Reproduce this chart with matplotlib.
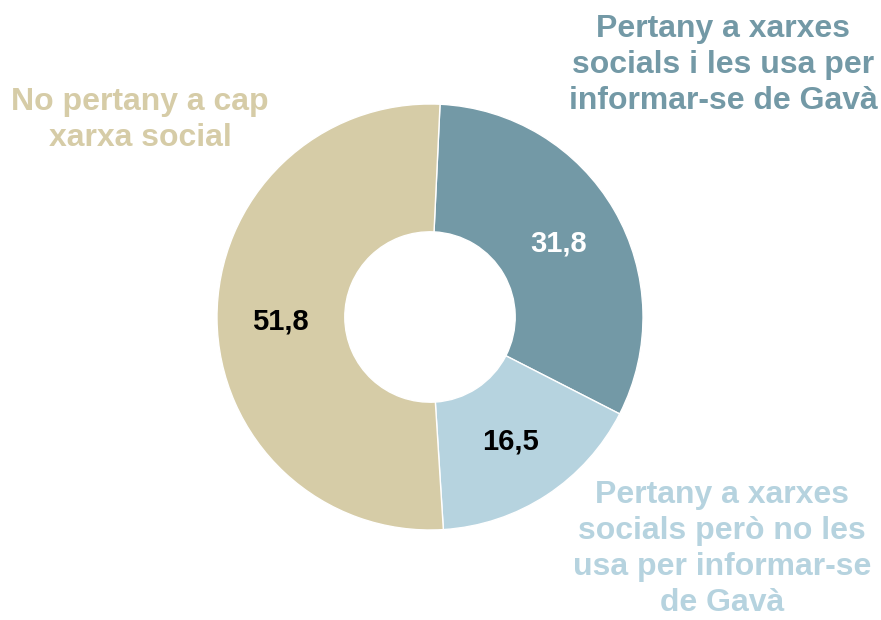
import matplotlib.pyplot as plt

plt.rcParams["font.family"] = ["Liberation Sans", "DejaVu Sans"]

categories = [
    "Pertany a xarxes\nsocials i les usa per\ninformar-se de Gavà",
    "Pertany a xarxes\nsocials però no les\nusa per informar-se\nde Gavà",
    "No pertany a cap\nxarxa social",
]
values = [31.8, 16.5, 51.8]
value_labels = ["31,8", "16,5", "51,8"]
colors = ["#7399A6", "#B6D3DF", "#D6CCA7"]
value_colors = ["white", "black", "black"]

W, H = 881, 620
fig = plt.figure(figsize=(W / 100, H / 100), dpi=100)
ax = fig.add_axes([0, 0, 1, 1])

cx, cy, r = 430, H - 317, 213
wedges, _ = ax.pie(values, colors=colors, startangle=87.3, counterclock=False,
                   center=(cx, cy), radius=r, frame=True,
                   wedgeprops=dict(width=r * 0.6, edgecolor="white", linewidth=1))
ax.set_xlim(0, W)
ax.set_ylim(0, H)
ax.set_aspect("equal")
ax.axis("off")

# value labels inside ring
value_pos = [(559, H - 243), (510, H - 442), (280, H - 322)]
for (x, y), txt, c in zip(value_pos, value_labels, value_colors):
    ax.text(x, y, txt, ha="center", va="center", fontsize=21,
            fontweight="bold", color=c)

# category labels outside
cat_pos = [(723, H - 65), (722, H - 549), (140, H - 120)]
for (x, y), txt, c in zip(cat_pos, categories, colors):
    ax.text(x, y, txt, ha="center", va="center", fontsize=23,
            fontweight="bold", color=c, linespacing=1.25)

fig.savefig("out.png", dpi=100)
